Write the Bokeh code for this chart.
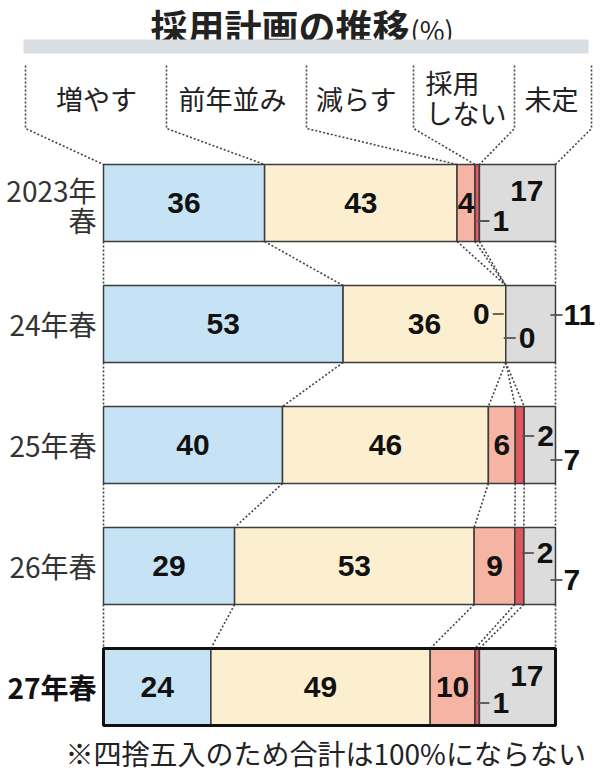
from bokeh.plotting import figure
from bokeh.models import ColumnDataSource, Range1d
from bokeh.embed import file_html
from bokeh.resources import INLINE
from bokeh.core.properties import value

# ---------------- data ----------------
rows = ["2023年春", "24年春", "25年春", "26年春", "27年春"]
categories = ["増やす", "前年並み", "減らす", "採用しない", "未定"]
increase = [36, 53, 40, 29, 24]
same = [43, 36, 46, 53, 49]
decrease = [4, 0, 6, 9, 10]
no_hire = [1, 0, 2, 2, 1]
undecided = [17, 11, 7, 7, 17]
title = "採用計画の推移"
unit = "(%)"
note = "※四捨五入のため合計は100%にならない"

# ---------------- style / layout ----------------
colors = ["#c6e3f5", "#fcefd0", "#f5b4a4", "#df5860", "#dcdcdc"]
JP = "Noto Sans CJK JP"
NUM = "Liberation Sans"
W, H = 600, 772
PX = 4.52      # px per percent
PY = 121.0     # px per row
BAR_H = 77 / PY
X0 = -103 / PX
Y0 = -202.5 / PY


def dx(img_x):
    return (img_x - 103) / PX


def dy(img_y):
    return (img_y - 202.5) / PY


p = figure(width=W, height=H, output_backend="svg", toolbar_location=None,
           x_range=Range1d(X0, X0 + W / PX),
           y_range=Range1d(Y0 + H / PY, Y0), min_border=0)
p.axis.visible = False
p.grid.visible = False
p.outline_line_color = None
p.background_fill_color = "white"

series = [increase, same, decrease, no_hire, undecided]
n = len(rows)
bounds = []
for i in range(n):
    vals = [s[i] for s in series]
    tot = float(sum(vals))
    b = [0.0]
    for v in vals:
        b.append(b[-1] + v / tot * 100.0)
    bounds.append(b)

ys = list(range(n))

# title
p.text(x=[dx(409)], y=[dy(25)], text=[title], text_font=value(JP), text_font_size="37px",
       text_font_style="bold", text_align="right", text_baseline="middle", text_color="#222222")
p.text(x=[dx(410)], y=[dy(29)], text=[unit], text_font=value(JP), text_font_size="27px",
       text_align="left", text_baseline="middle", text_color="#222222")
p.quad(left=[dx(23)], right=[dx(588)], top=[dy(39)], bottom=[dy(53)],
       fill_color="#d9dee2", line_color=None)

# header labels
hdr_x = [96, 232, 356]
for t, hx in zip(categories[:3], hdr_x):
    p.text(x=[dx(hx)], y=[dy(98)], text=[t], text_font=value(JP), text_font_size="27px",
           text_align="center", text_baseline="middle", text_color="#222222")
p.text(x=[dx(425)], y=[dy(82)], text=["採用"], text_font=value(JP), text_font_size="27px",
       text_align="left", text_baseline="middle", text_color="#222222")
p.text(x=[dx(425)], y=[dy(112)], text=["しない"], text_font=value(JP), text_font_size="27px",
       text_align="left", text_baseline="middle", text_color="#222222")
p.text(x=[dx(551)], y=[dy(98)], text=[categories[4]], text_font=value(JP), text_font_size="27px",
       text_align="center", text_baseline="middle", text_color="#222222")

# header brackets
vx = [25, 166, 306, 413, 514, 591]
bxs, bys = [], []
for j, v in enumerate(vx):
    bxs.append([dx(v), dx(v), bounds[0][j]])
    bys.append([dy(65), dy(128), 0 - BAR_H / 2])
p.multi_line(xs=bxs, ys=bys, line_color="#444444", line_width=1.6, line_dash="2 2")

# connectors between bars
cxs, cys = [], []
for i in range(n - 1):
    for j in range(6):
        cxs.append([bounds[i][j], bounds[i + 1][j]])
        cys.append([i + BAR_H / 2, i + 1 - BAR_H / 2])
p.multi_line(xs=cxs, ys=cys, line_color="#444444", line_width=1.6, line_dash="2 2")

# bars
for k in range(5):
    src = ColumnDataSource(dict(y=ys, left=[bounds[i][k] for i in range(n)],
                                right=[bounds[i][k + 1] for i in range(n)]))
    p.hbar(y="y", left="left", right="right", height=BAR_H, source=src,
           fill_color=colors[k], line_color="#3c3c3c", line_width=1.5)
# emphasised last bar
p.hbar(y=[n - 1], left=[0], right=[100], height=BAR_H, fill_color=None,
       line_color="#111111", line_width=3)

# year labels
for i, r in enumerate(rows):
    bold = "bold" if i == n - 1 else "normal"
    col = "#111111" if i == n - 1 else "#333333"
    if r.startswith("2023"):
        p.text(x=[dx(96)], y=[i - 13 / PY], text=[r[:-1]], text_font=value(JP),
               text_font_size="28px", text_align="right", text_baseline="middle", text_color=col)
        p.text(x=[dx(96)], y=[i + 17 / PY], text=[r[-1]], text_font=value(JP),
               text_font_size="28px", text_align="right", text_baseline="middle", text_color=col)
    else:
        p.text(x=[dx(96)], y=[i], text=[r], text_font=value(JP), text_font_size="28px",
               text_font_style=bold, text_align="right", text_baseline="middle", text_color=col)

# value labels
dec_mode = ["center", "left", "center", "center", "center"]
nh_dy = [18, 14, -9, -13, 16]
und_mode = ["inside", "outside", "outside", "outside", "inside"]
und_dy = [-12, -9, 15, 14, -11]

lab = {"left": dict(x=[], y=[], t=[]), "center": dict(x=[], y=[], t=[]), "right": dict(x=[], y=[], t=[])}
ticks = dict(x0=[], y0=[], x1=[], y1=[])


def add(al, x, y, t):
    lab[al]["x"].append(x)
    lab[al]["y"].append(y)
    lab[al]["t"].append(str(t))


for i in range(n):
    b = bounds[i]
    add("center", (b[0] + b[1]) / 2, i, increase[i])
    add("center", (b[1] + b[2]) / 2, i, same[i])
    if dec_mode[i] == "center":
        add("center", (b[2] + b[3]) / 2, i, decrease[i])
    else:
        yy = i - 10 / PY
        add("right", b[3] - 16 / PX, yy, decrease[i])
        ticks["x0"].append(b[3] - 13 / PX); ticks["x1"].append(b[3] - 2 / PX)
        ticks["y0"].append(yy); ticks["y1"].append(yy)
    yy = i + nh_dy[i] / PY
    ticks["x0"].append(b[4] - 2 / PX); ticks["x1"].append(b[4] + 10 / PX)
    ticks["y0"].append(yy); ticks["y1"].append(yy)
    add("left", b[4] + 13 / PX, yy, no_hire[i])
    yy = i + und_dy[i] / PY
    if und_mode[i] == "inside":
        add("right", b[5] - 12 / PX, yy, undecided[i])
    else:
        ticks["x0"].append(b[5] - 5 / PX); ticks["x1"].append(b[5] + 7 / PX)
        ticks["y0"].append(yy); ticks["y1"].append(yy)
        add("left", b[5] + 8 / PX, yy, undecided[i])

p.segment(x0="x0", y0="y0", x1="x1", y1="y1", source=ColumnDataSource(ticks),
          line_color="#555555", line_width=1.8)
for al, d in lab.items():
    p.text(x=d["x"], y=d["y"], text=d["t"], text_font=value(NUM), text_font_size="30px",
           text_font_style="bold", text_align=al, text_baseline="middle", text_color="#111111")

# footnote
p.text(x=[dx(65)], y=[dy(752)], text=[note], text_font=value(JP), text_font_size="28px",
       text_align="left", text_baseline="middle", text_color="#222222")

open("out.html", "w").write(file_html(p, INLINE))
